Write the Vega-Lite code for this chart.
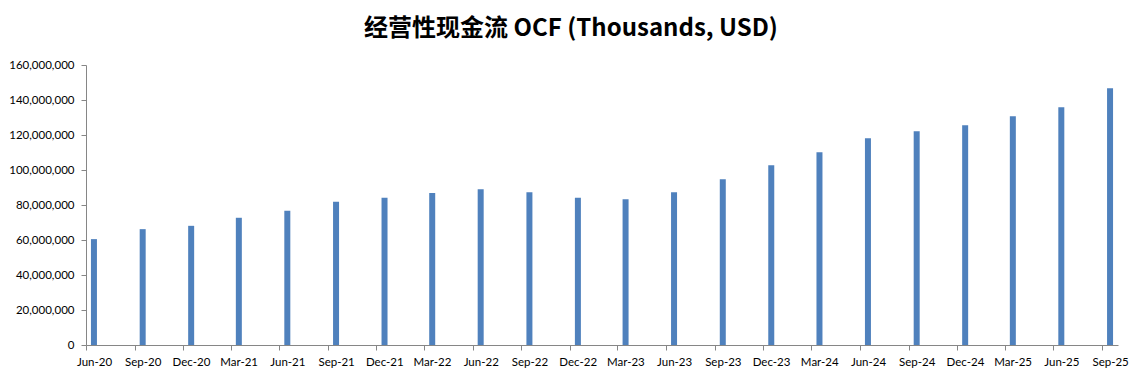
{
  "$schema": "https://vega.github.io/schema/vega-lite/v6.json",
  "width": 1032,
  "height": 280,
  "autosize": "none",
  "padding": {"left": 86, "top": 65, "right": 19, "bottom": 36},
  "background": "white",
  "title": {
    "text": "经营性现金流 OCF (Thousands, USD)",
    "font": "Noto Sans CJK SC",
    "fontSize": 24,
    "fontWeight": "bold",
    "color": "#000000",
    "anchor": "middle",
    "dx": -31,
    "offset": 18
  },
  "data": {
    "values": [
      {"date": "2020-06-15", "ocf": 60500000},
      {"date": "2020-09-15", "ocf": 66200000},
      {"date": "2020-12-15", "ocf": 68100000},
      {"date": "2021-03-15", "ocf": 72700000},
      {"date": "2021-06-15", "ocf": 76700000},
      {"date": "2021-09-15", "ocf": 81800000},
      {"date": "2021-12-15", "ocf": 84100000},
      {"date": "2022-03-15", "ocf": 86800000},
      {"date": "2022-06-15", "ocf": 89000000},
      {"date": "2022-09-15", "ocf": 87300000},
      {"date": "2022-12-15", "ocf": 84100000},
      {"date": "2023-03-15", "ocf": 83300000},
      {"date": "2023-06-15", "ocf": 87300000},
      {"date": "2023-09-15", "ocf": 94700000},
      {"date": "2023-12-15", "ocf": 102700000},
      {"date": "2024-03-15", "ocf": 110200000},
      {"date": "2024-06-15", "ocf": 118200000},
      {"date": "2024-09-15", "ocf": 122100000},
      {"date": "2024-12-15", "ocf": 125600000},
      {"date": "2025-03-15", "ocf": 130700000},
      {"date": "2025-06-15", "ocf": 135800000},
      {"date": "2025-09-15", "ocf": 146700000}
    ]
  },
  "mark": {"type": "bar", "color": "#4F81BD", "width": 6},
  "encoding": {
    "x": {
      "field": "date",
      "type": "temporal",
      "timeUnit": "utcyearmonth",
      "bandPosition": 0.5,
      "title": null,
      "scale": {
        "type": "utc",
        "nice": false,
        "domain": [
          {"year": 2020, "month": 6, "date": 1, "utc": true},
          {"year": 2025, "month": 10, "date": 1, "utc": true}
        ]
      },
      "axis": {
        "values": [
          {"year": 2020, "month": 6, "date": 1, "utc": true},
          {"year": 2020, "month": 9, "date": 1, "utc": true},
          {"year": 2020, "month": 12, "date": 1, "utc": true},
          {"year": 2021, "month": 3, "date": 1, "utc": true},
          {"year": 2021, "month": 6, "date": 1, "utc": true},
          {"year": 2021, "month": 9, "date": 1, "utc": true},
          {"year": 2021, "month": 12, "date": 1, "utc": true},
          {"year": 2022, "month": 3, "date": 1, "utc": true},
          {"year": 2022, "month": 6, "date": 1, "utc": true},
          {"year": 2022, "month": 9, "date": 1, "utc": true},
          {"year": 2022, "month": 12, "date": 1, "utc": true},
          {"year": 2023, "month": 3, "date": 1, "utc": true},
          {"year": 2023, "month": 6, "date": 1, "utc": true},
          {"year": 2023, "month": 9, "date": 1, "utc": true},
          {"year": 2023, "month": 12, "date": 1, "utc": true},
          {"year": 2024, "month": 3, "date": 1, "utc": true},
          {"year": 2024, "month": 6, "date": 1, "utc": true},
          {"year": 2024, "month": 9, "date": 1, "utc": true},
          {"year": 2024, "month": 12, "date": 1, "utc": true},
          {"year": 2025, "month": 3, "date": 1, "utc": true},
          {"year": 2025, "month": 6, "date": 1, "utc": true},
          {"year": 2025, "month": 9, "date": 1, "utc": true}
        ],
        "format": "%b-%y",
        "labelOffset": 8,
        "labelFont": "Lato",
        "labelFontSize": 11.5,
        "labelColor": "#000000",
        "labelPadding": 6,
        "labelOverlap": false,
        "labelFlush": false,
        "tickSize": 5,
        "tickColor": "#868686",
        "domainColor": "#868686",
        "grid": false
      }
    },
    "y": {
      "field": "ocf",
      "type": "quantitative",
      "title": null,
      "scale": {"domain": [0, 160000000], "nice": false},
      "axis": {
        "values": [0, 20000000, 40000000, 60000000, 80000000, 100000000, 120000000, 140000000, 160000000],
        "format": ",.0f",
        "labelFont": "Lato",
        "labelFontSize": 11.5,
        "labelColor": "#000000",
        "labelPadding": 7,
        "tickSize": 5,
        "tickColor": "#868686",
        "domainColor": "#868686",
        "grid": false
      }
    }
  },
  "config": {"view": {"stroke": null}}
}
